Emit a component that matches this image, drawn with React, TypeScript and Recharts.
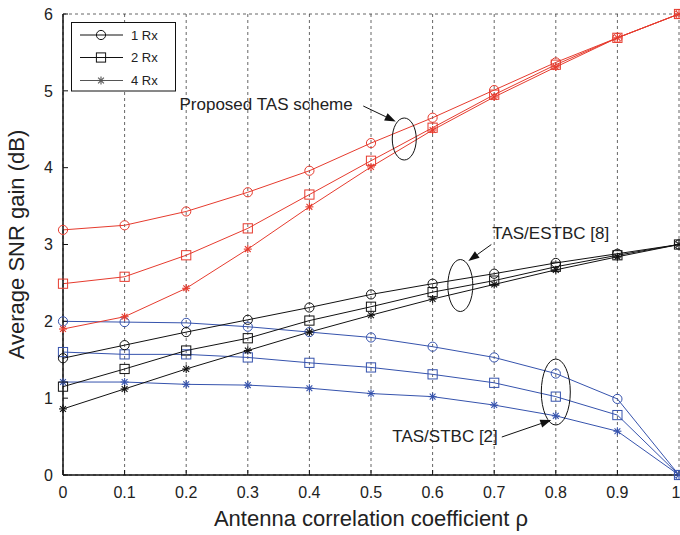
import React from "react";
import {
  LineChart,
  Line,
  XAxis,
  YAxis,
  CartesianGrid,
  ReferenceDot,
  Legend,
} from "recharts";

const rho = [0, 0.1, 0.2, 0.3, 0.4, 0.5, 0.6, 0.7, 0.8, 0.9, 1];
const xTickLabels = ["0", "0.1", "0.2", "0.3", "0.4", "0.5", "0.6", "0.7", "0.8", "0.9", "1"];
const yTicks = [0, 1, 2, 3, 4, 5, 6];

// Proposed TAS scheme (red)
const tas1 = [3.19, 3.25, 3.43, 3.68, 3.96, 4.32, 4.65, 5.01, 5.37, 5.69, 6.0];
const tas2 = [2.49, 2.58, 2.86, 3.21, 3.65, 4.09, 4.52, 4.95, 5.34, 5.69, 6.0];
const tas4 = [1.9, 2.06, 2.43, 2.94, 3.49, 4.01, 4.49, 4.92, 5.31, 5.69, 6.0];
// TAS/ESTBC [8] (black)
const estbc1 = [1.52, 1.69, 1.86, 2.02, 2.18, 2.35, 2.49, 2.62, 2.76, 2.88, 3.0];
const estbc2 = [1.15, 1.38, 1.62, 1.78, 2.01, 2.19, 2.38, 2.53, 2.71, 2.86, 3.0];
const estbc4 = [0.86, 1.12, 1.38, 1.62, 1.86, 2.08, 2.29, 2.48, 2.67, 2.84, 3.0];
// TAS/STBC [2] (blue)
const stbc1 = [2.0, 1.99, 1.98, 1.93, 1.86, 1.79, 1.67, 1.53, 1.32, 0.99, 0];
const stbc2 = [1.6, 1.57, 1.57, 1.53, 1.46, 1.4, 1.31, 1.2, 1.02, 0.78, 0];
const stbc4 = [1.21, 1.21, 1.18, 1.17, 1.13, 1.06, 1.02, 0.91, 0.77, 0.57, 0];

const legendLabels = ["1 Rx", "2 Rx", "4 Rx"];

const data = rho.map((x, i) => ({
  x,
  tas1: tas1[i],
  tas2: tas2[i],
  tas4: tas4[i],
  estbc1: estbc1[i],
  estbc2: estbc2[i],
  estbc4: estbc4[i],
  stbc1: stbc1[i],
  stbc2: stbc2[i],
  stbc4: stbc4[i],
}));

const RED = "#e63b2e";
const BLUE = "#3653ad";
const BLACK = "#111";
const FONT = "'Liberation Sans', Arial, Helvetica, sans-serif";

type Kind = "circle" | "square" | "star";

function Marker({ kind, cx, cy, color }: { kind: Kind; cx: number; cy: number; color: string }) {
  if (kind === "circle") {
    return <circle cx={cx} cy={cy} r={4.6} fill="none" stroke={color} strokeWidth={1} />;
  }
  if (kind === "square") {
    return <rect x={cx - 4.6} y={cy - 4.6} width={9.2} height={9.2} fill="none" stroke={color} strokeWidth={1} />;
  }
  const s = 4;
  const d = 2.9;
  return (
    <g stroke={color} strokeWidth={1.1}>
      <line x1={cx - s} y1={cy} x2={cx + s} y2={cy} />
      <line x1={cx} y1={cy - s} x2={cx} y2={cy + s} />
      <line x1={cx - d} y1={cy - d} x2={cx + d} y2={cy + d} />
      <line x1={cx - d} y1={cy + d} x2={cx + d} y2={cy - d} />
    </g>
  );
}

const makeDot = (kind: Kind, color: string) => (props: any) => {
  const { cx, cy, index } = props;
  if (cx == null || cy == null) return <g key={`${kind}-${index}`} />;
  return (
    <g key={`${kind}-${color}-${index}`}>
      <Marker kind={kind} cx={cx} cy={cy} color={color} />
    </g>
  );
};

function Arrow({ x1, y1, x2, y2 }: { x1: number; y1: number; x2: number; y2: number }) {
  const ang = Math.atan2(y2 - y1, x2 - x1);
  const L = 11;
  const W = 4;
  const bx = x2 - L * Math.cos(ang);
  const by = y2 - L * Math.sin(ang);
  const px = -Math.sin(ang) * W;
  const py = Math.cos(ang) * W;
  return (
    <g>
      <line x1={x1} y1={y1} x2={bx} y2={by} stroke="#111" strokeWidth={1} />
      <polygon points={`${x2},${y2} ${bx + px},${by + py} ${bx - px},${by - py}`} fill="#111" />
    </g>
  );
}

type Ann = {
  rx: number;
  ry: number;
  text: string;
  tx: number;
  ty: number;
  anchor: "start" | "end";
  a: [number, number, number, number];
};

const makeAnnotation = (ann: Ann) => (props: any) => {
  const { cx, cy } = props;
  return (
    <g>
      <ellipse cx={cx} cy={cy} rx={ann.rx} ry={ann.ry} fill="none" stroke="#111" strokeWidth={1} />
      <Arrow x1={cx + ann.a[0]} y1={cy + ann.a[1]} x2={cx + ann.a[2]} y2={cy + ann.a[3]} />
      <text
        x={cx + ann.tx}
        y={cy + ann.ty}
        textAnchor={ann.anchor}
        fontSize={17}
        fontFamily={FONT}
        fill="#222"
      >
        {ann.text}
      </text>
    </g>
  );
};

const annProposed: Ann = {
  rx: 12,
  ry: 21,
  text: "Proposed TAS scheme",
  tx: -51.5,
  ty: -29,
  anchor: "end",
  a: [-41, -33, -8.5, -17.5],
};
const annEstbc: Ann = {
  rx: 12.5,
  ry: 26,
  text: "TAS/ESTBC [8]",
  tx: 32,
  ty: -47,
  anchor: "start",
  a: [31, -41, 8, -24.5],
};
const annStbc: Ann = {
  rx: 14.5,
  ry: 33,
  text: "TAS/STBC [2]",
  tx: -58,
  ty: 49.5,
  anchor: "end",
  a: [-54, 45, -4.5, 28],
};

function LegendBox() {
  const kinds: Kind[] = ["circle", "square", "star"];
  const strokes = [BLACK, BLACK, "#555"];
  const rows = [13, 35.5, 58.5];
  return (
    <svg width={105} height={70} style={{ display: "block" }}>
      <rect x={0.5} y={0.5} width={104} height={68.5} fill="#fff" stroke="#111" strokeWidth={1} />
      {legendLabels.map((lab, i) => (
        <g key={lab}>
          <line x1={9} y1={rows[i]} x2={52} y2={rows[i]} stroke={strokes[i]} strokeWidth={1} />
          <Marker kind={kinds[i]} cx={30} cy={rows[i]} color={strokes[i]} />
          <text x={60} y={rows[i] + 4.5} fontSize={13} fontFamily={FONT} fill="#222">
            {lab}
          </text>
        </g>
      ))}
    </svg>
  );
}

const emptyTick = () => <g />;

export default function App() {
  return (
    <div style={{ position: "absolute", left: 0, top: 0, width: 680, height: 535, background: "#fff" }}>
      <LineChart
        width={680}
        height={535}
        data={data}
        margin={{ top: 14, right: 1, bottom: 0, left: 0 }}
      >
        <CartesianGrid stroke="#333" strokeDasharray="3 3" strokeWidth={0.75} />
        <XAxis
          xAxisId="b"
          dataKey="x"
          type="number"
          domain={[0, 1]}
          ticks={rho}
          tickFormatter={(v: number) => xTickLabels[Math.round(v * 10)]}
          height={60}
          tickSize={-5}
          tickMargin={17}
          axisLine={{ stroke: "#111", strokeWidth: 1.5 }}
          tickLine={{ stroke: "#111" }}
          tick={{ fontSize: 16, fontFamily: FONT, fill: "#222" }}
          label={{
            value: "Antenna correlation coefficient ρ",
            position: "insideBottom",
            offset: 9,
            fontSize: 22,
            fontFamily: FONT,
            fill: "#222",
          }}
        />
        <XAxis
          xAxisId="t"
          orientation="top"
          dataKey="x"
          type="number"
          domain={[0, 1]}
          ticks={rho}
          height={0}
          tickSize={-5}
          axisLine={{ stroke: "#111", strokeWidth: 1.5 }}
          tickLine={{ stroke: "#111" }}
          tick={emptyTick}
        />
        <YAxis
          yAxisId="l"
          type="number"
          domain={[0, 6]}
          ticks={yTicks}
          width={63}
          tickSize={-5}
          tickMargin={15}
          axisLine={{ stroke: "#111", strokeWidth: 1.5 }}
          tickLine={{ stroke: "#111" }}
          tick={{ fontSize: 16, fontFamily: FONT, fill: "#222" }}
          label={{
            value: "Average SNR gain (dB)",
            angle: -90,
            position: "insideLeft",
            offset: 16,
            style: { textAnchor: "middle" },
            fontSize: 22,
            fontFamily: FONT,
            fill: "#222",
          }}
        />
        <YAxis
          yAxisId="r"
          orientation="right"
          type="number"
          domain={[0, 6]}
          ticks={yTicks}
          width={0}
          tickSize={-5}
          axisLine={{ stroke: "#111", strokeWidth: 1.5 }}
          tickLine={{ stroke: "#111" }}
          tick={emptyTick}
        />
        <Legend
          layout="horizontal"
          align="center"
          verticalAlign="middle"
          wrapperStyle={{ top: 22, left: 71, width: 105, height: 70 }}
          content={() => <LegendBox />}
        />

        <Line xAxisId="b" yAxisId="l" dataKey="stbc1" stroke={BLUE} strokeWidth={1} dot={makeDot("circle", BLUE)} activeDot={false} isAnimationActive={false} />
        <Line xAxisId="b" yAxisId="l" dataKey="stbc2" stroke={BLUE} strokeWidth={1} dot={makeDot("square", BLUE)} activeDot={false} isAnimationActive={false} />
        <Line xAxisId="b" yAxisId="l" dataKey="stbc4" stroke={BLUE} strokeWidth={1} dot={makeDot("star", BLUE)} activeDot={false} isAnimationActive={false} />
        <Line xAxisId="b" yAxisId="l" dataKey="estbc1" stroke={BLACK} strokeWidth={1} dot={makeDot("circle", BLACK)} activeDot={false} isAnimationActive={false} />
        <Line xAxisId="b" yAxisId="l" dataKey="estbc2" stroke={BLACK} strokeWidth={1} dot={makeDot("square", BLACK)} activeDot={false} isAnimationActive={false} />
        <Line xAxisId="b" yAxisId="l" dataKey="estbc4" stroke={BLACK} strokeWidth={1} dot={makeDot("star", BLACK)} activeDot={false} isAnimationActive={false} />
        <Line xAxisId="b" yAxisId="l" dataKey="tas1" stroke={RED} strokeWidth={1} dot={makeDot("circle", RED)} activeDot={false} isAnimationActive={false} />
        <Line xAxisId="b" yAxisId="l" dataKey="tas2" stroke={RED} strokeWidth={1} dot={makeDot("square", RED)} activeDot={false} isAnimationActive={false} />
        <Line xAxisId="b" yAxisId="l" dataKey="tas4" stroke={RED} strokeWidth={1} dot={makeDot("star", RED)} activeDot={false} isAnimationActive={false} />

        <ReferenceDot xAxisId="b" yAxisId="l" x={0.554} y={4.373} r={0} ifOverflow="visible" shape={makeAnnotation(annProposed)} />
        <ReferenceDot xAxisId="b" yAxisId="l" x={0.645} y={2.466} r={0} ifOverflow="visible" shape={makeAnnotation(annEstbc)} />
        <ReferenceDot xAxisId="b" yAxisId="l" x={0.8} y={1.08} r={0} ifOverflow="visible" shape={makeAnnotation(annStbc)} />
      </LineChart>
    </div>
  );
}
